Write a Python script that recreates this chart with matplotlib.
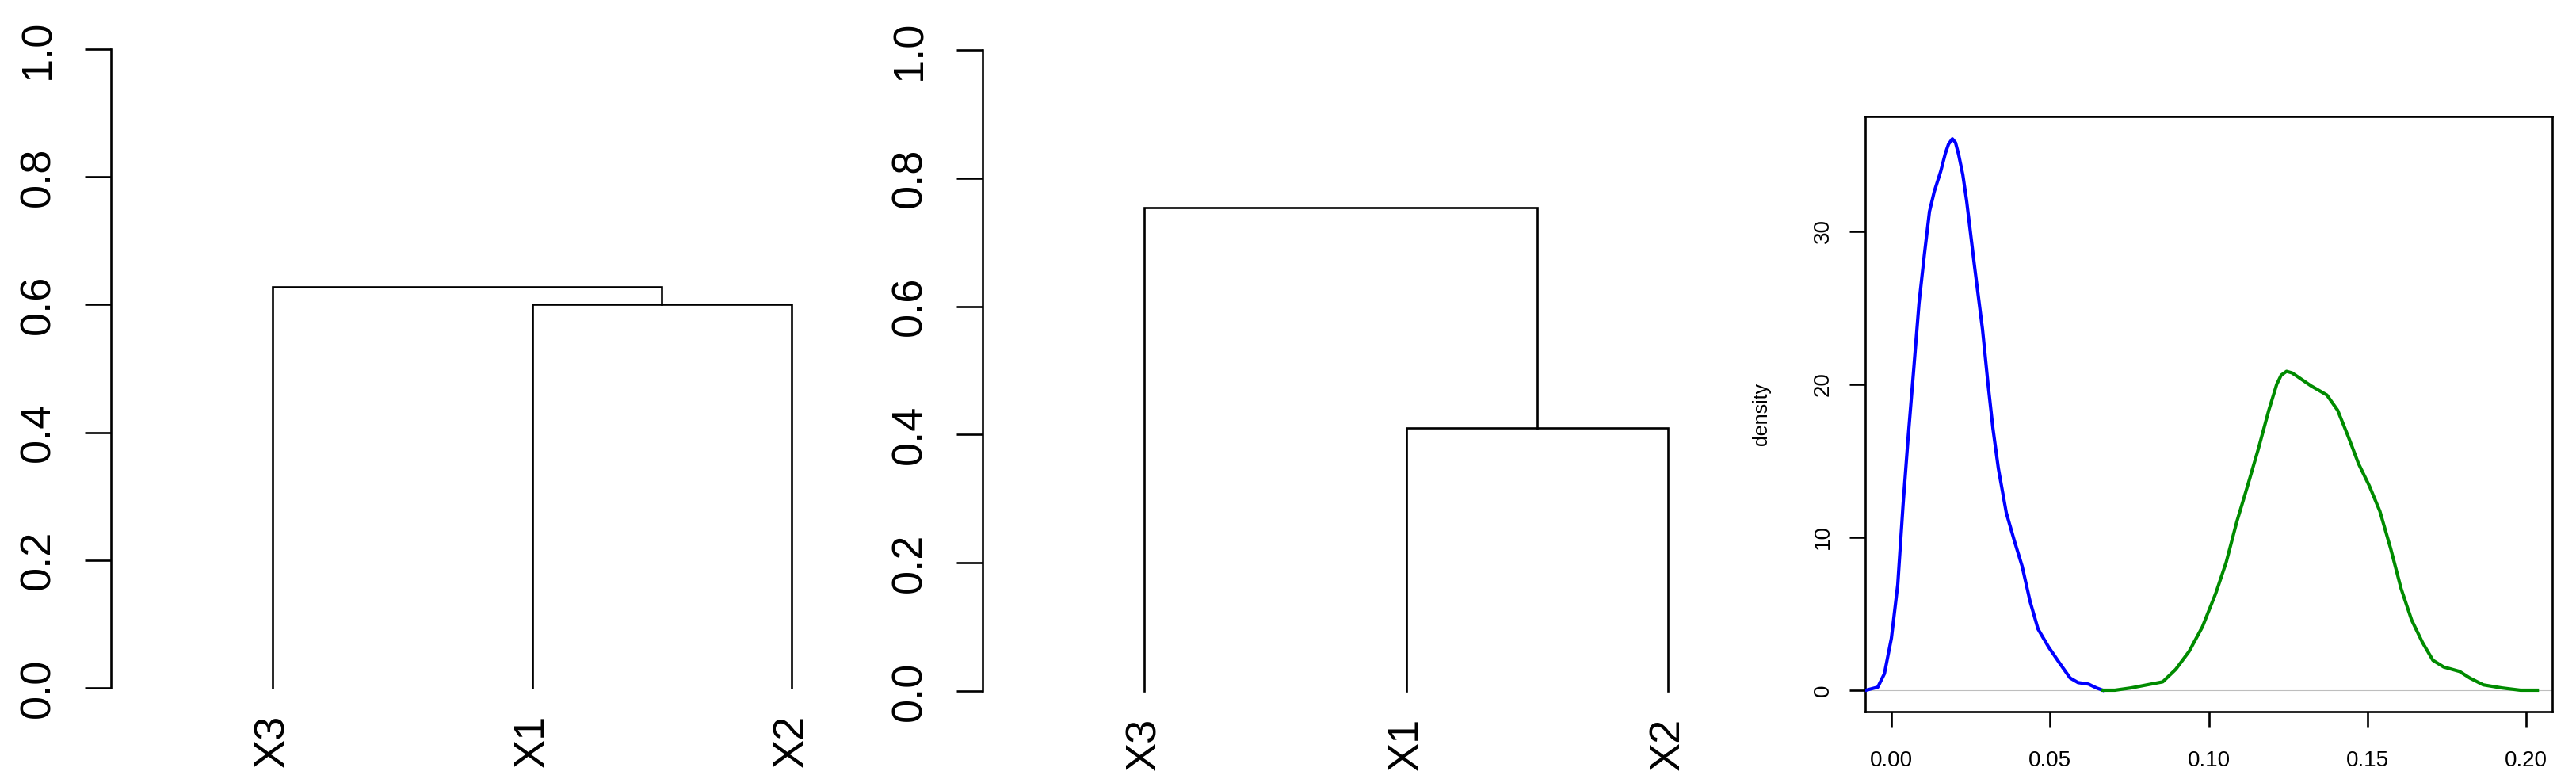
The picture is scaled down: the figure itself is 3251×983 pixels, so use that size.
import matplotlib
matplotlib.use("Agg")
import matplotlib.pyplot as plt

plt.rcParams['font.family'] = ['Liberation Sans', 'DejaVu Sans']

# dendrogram data: leaf order and merge heights (first: X1+X2, second: with X3)
leaf_labels = ['X3', 'X1', 'X2']
heights_left = [0.600, 0.628]
heights_mid = [0.411, 0.754]
dendro_ticks = [0.0, 0.2, 0.4, 0.6, 0.8, 1.0]

# density curves
blue_x = [-0.008, -0.0043, -0.0022, 0.000, 0.002, 0.0037, 0.0053, 0.007, 0.0087, 0.0104,
          0.012, 0.0135, 0.0155, 0.017, 0.018, 0.0192, 0.0202, 0.0212, 0.0225, 0.0237,
          0.0262, 0.0287, 0.0304, 0.032, 0.0337, 0.0362, 0.0387, 0.0412, 0.0437, 0.0462,
          0.0496, 0.0529, 0.0563, 0.0588, 0.0621, 0.0646, 0.0666]
blue_y = [0, 0.2, 1.08, 3.4, 6.9, 12.2, 16.6, 20.9, 25.3, 28.5,
          31.3, 32.6, 33.9, 35.1, 35.7, 36.05, 35.8, 35.0, 33.7, 32.0,
          27.7, 23.6, 20.1, 17.1, 14.5, 11.6, 9.8, 8.1, 5.8, 4.0,
          2.8, 1.8, 0.8, 0.5, 0.4, 0.15, 0]
green_x = [0.0664, 0.0704, 0.0755, 0.0805, 0.0855, 0.0896, 0.0938, 0.098, 0.1022, 0.1055,
           0.1088, 0.1122, 0.1155, 0.1189, 0.1214, 0.1228, 0.1245, 0.1262, 0.128, 0.1322,
           0.1372, 0.1406, 0.1439, 0.1472, 0.1506, 0.1539, 0.1573, 0.1606, 0.1639, 0.1673,
           0.1706, 0.174, 0.179, 0.1823, 0.1865, 0.1923, 0.1982, 0.2035]
green_y = [0, 0, 0.15, 0.35, 0.55, 1.37, 2.54, 4.15, 6.34, 8.38,
           11.0, 13.35, 15.7, 18.3, 20.0, 20.6, 20.85, 20.75, 20.5, 19.9,
           19.3, 18.3, 16.6, 14.8, 13.35, 11.7, 9.26, 6.63, 4.59, 3.13,
           1.96, 1.52, 1.23, 0.79, 0.35, 0.15, 0, 0]
dens_xticks = [0.00, 0.05, 0.10, 0.15, 0.20]
dens_yticks = [0, 10, 20, 30]

W, H = 3251, 983
fig = plt.figure(figsize=(W / 100, H / 100), dpi=100)


def px_axes(left, top, right, bottom):
    return fig.add_axes([left / W, 1 - bottom / H, (right - left) / W, (bottom - top) / H])


LW = 1.9


def dendro(ax, heights):
    h1, h2 = heights
    ax.plot([2, 2, 3, 3], [0, h1, h1, 0], color='black', lw=LW, clip_on=False,
            solid_joinstyle='miter')
    ax.plot([1, 1, 2.5, 2.5], [0, h2, h2, h1], color='black', lw=LW, clip_on=False,
            solid_joinstyle='miter')
    ax.set_ylim(0, 1)
    for s in ['top', 'right', 'bottom']:
        ax.spines[s].set_visible(False)
    ax.spines['left'].set_linewidth(LW)
    ax.set_yticks(dendro_ticks)
    ax.set_yticklabels(['%.1f' % t for t in dendro_ticks])
    ax.tick_params(axis='y', length=24, width=LW, pad=24, labelsize=39, labelrotation=90)
    ax.set_xticks([1, 2, 3])
    ax.set_xticklabels(leaf_labels)
    ax.tick_params(axis='x', length=0, pad=24.5, labelsize=39, labelrotation=90)
    for lab in ax.get_yticklabels():
        lab.set_va('center')


ax1 = px_axes(140, 62, 1203, 868)
ax1.set_xlim(0.378, 3.622)
dendro(ax1, heights_left)

ax2 = px_axes(1240, 63, 2309, 872)
ax2.set_xlim(0.3827, 3.6173)
dendro(ax2, heights_mid)

ax3 = px_axes(2354, 147, 3221, 898)
ax3.axhline(0, color='#BEBEBE', lw=0.8, zorder=1)
ax3.plot(blue_x, blue_y, color='blue', lw=3, solid_joinstyle='round', zorder=3)
ax3.plot(green_x, green_y, color='#008B00', lw=3, solid_joinstyle='round', zorder=3)
ax3.set_xlim(-0.00824, 0.2082)
ax3.set_ylim(-1.40, 37.51)
ax3.set_xticks(dens_xticks)
ax3.set_xticklabels(['%.2f' % t for t in dens_xticks])
ax3.set_yticks(dens_yticks)
ax3.set_yticklabels([str(t) for t in dens_yticks])
ax3.tick_params(axis='x', length=14.4, width=LW, pad=21, labelsize=20)
ax3.tick_params(axis='y', length=14.4, width=LW, pad=14.4, labelsize=20, labelrotation=90)
for lab in ax3.get_yticklabels():
    lab.set_va('center')
for s in ax3.spines.values():
    s.set_linewidth(LW)
fig.text(2223 / W, 1 - 522 / H, 'density', rotation=90, ha='center', va='center', fontsize=18)

fig.savefig('out.png', dpi=100)
